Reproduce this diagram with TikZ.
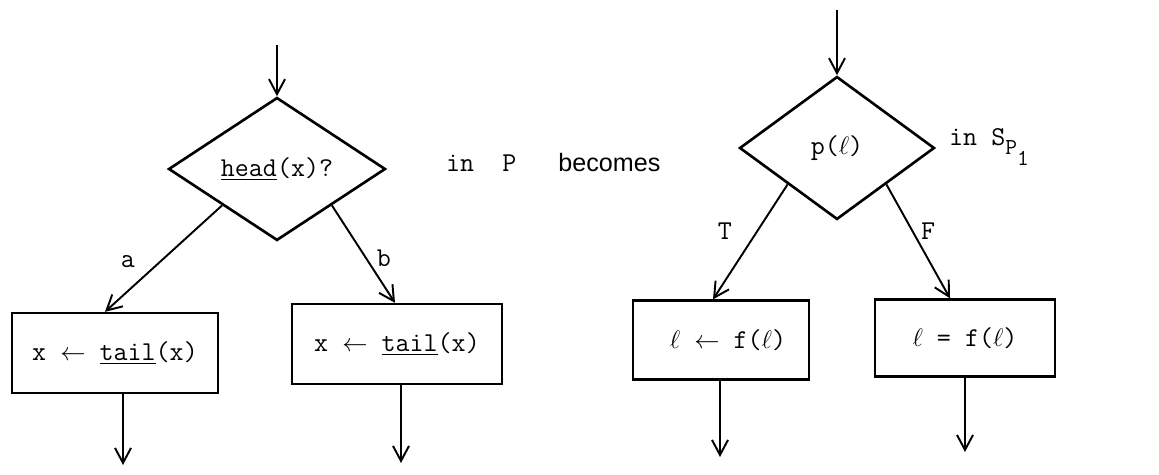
\documentclass[tikz,border=0pt]{standalone}
\usepackage{fontspec}
\setsansfont{Liberation Sans}
\usetikzlibrary{shapes.geometric,arrows.meta}

\begin{document}
\begin{tikzpicture}[x=0.02cm,y=-0.02cm,>={Straight Barb[length=3mm,width=3.2mm]},
  every node/.style={font=\fontsize{15.5}{18}\selectfont\ttfamily},
  test/.style={draw,diamond,aspect=1.5,inner sep=0pt,line width=1.5pt},
  act/.style={draw,rectangle,inner sep=0pt,line width=1.3pt},
  flow/.style={->,line width=1.1pt}]

  \useasboundingbox (0,0) rectangle (1159,475);

  % P: the test on head(x)
  \node[test,minimum width=4.34cm,minimum height=2.86cm] (headtest) at (277,169) {\underline{head}(x)?};
  \node[act,minimum width=4.12cm,minimum height=1.6cm] (taila) at (115,353) {x $\leftarrow$ \underline{tail}(x)};
  \node[act,minimum width=4.2cm,minimum height=1.6cm] (tailb) at (397,344) {x $\leftarrow$ \underline{tail}(x)};

  \coordinate (ina) at (277,45);
  \coordinate (outa) at (123,465);
  \coordinate (outb) at (401,463);

  \draw[flow] (ina) -- (headtest.north);
  \draw[flow] (headtest.south west) -- ([xshift=-0.2cm]taila.north);
  \draw[flow] (headtest.south east) -- ([xshift=-0.04cm]tailb.north);
  \draw[flow] (taila.south -| outa) -- (outa);
  \draw[flow] (tailb.south -| outb) -- (outb);

  \node (laba) at (128,262) {a};
  \node (labb) at (384,258) {b};

  \node[anchor=west] (becomes) at (440,163) {in\ \ P\ \ \ {\fontsize{14.3}{17}\selectfont\sffamily becomes}};

  % S_P1: the test on p(l)
  \node[test,minimum width=3.9cm,minimum height=2.86cm] (ptest) at (837,148) {p($\ell$)};
  \node[act,minimum width=3.52cm,minimum height=1.58cm] (fT) at (721,340) {\ $\ell$ $\leftarrow$ f($\ell$)};
  \node[act,minimum width=3.6cm,minimum height=1.54cm] (fF) at (965,338) {$\ell$ = f($\ell$)};

  \coordinate (inp) at (837,10);
  \coordinate (outT) at (720,457);
  \coordinate (outF) at (965,452);

  \draw[flow] (inp) -- (ptest.north);
  \draw[flow] (ptest.south west) -- ([xshift=-0.16cm]fT.north);
  \draw[flow] (ptest.south east) -- ([xshift=-0.3cm]fF.north);
  \draw[flow] (fT.south -| outT) -- (outT);
  \draw[flow] (fF.south -| outF) -- (outF);

  \node (labT) at (725,231) {T};
  \node (labF) at (928,231) {F};

  \node[anchor=west] (inS) at (943,147) {in\ S\raisebox{-5pt}{\fontsize{13}{15}\selectfont P\raisebox{-6pt}{1}}};

\end{tikzpicture}
\end{document}
